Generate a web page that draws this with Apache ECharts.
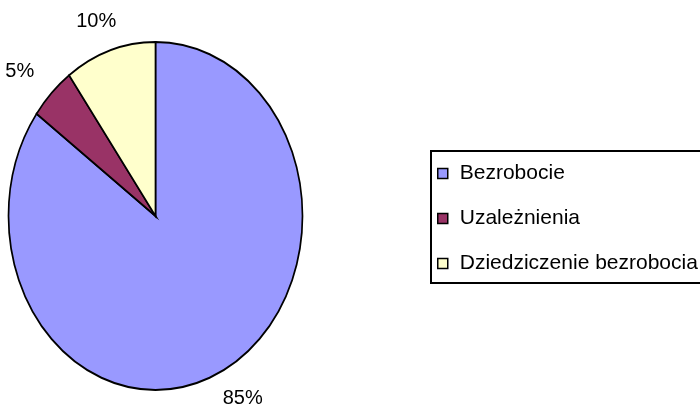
<!DOCTYPE html>
<html>
<head>
<meta charset="utf-8">
<script src="https://cdn.jsdelivr.net/npm/echarts@6/dist/echarts.min.js"></script>
<style>
  html, body { margin: 0; padding: 0; background: #fff; }
  #chart { width: 700px; height: 412px; }
</style>
</head>
<body>
<div id="chart"></div>
<script>
const categories = ['Bezrobocie', 'Uzależnienia', 'Dziedziczenie bezrobocia'];
const values = [85, 5, 10];
const colors = ['#9999FF', '#993366', '#FFFFCC'];

const total = values.reduce((a, b) => a + b, 0);
// the pie is drawn as an ellipse, so it is a circle stretched on y
const pie = { cx: 155.5, cy: 216, rx: 147, ry: 174 };

function sliceRenderer(i) {
  return function (params, api) {
    let before = 0;
    for (let k = 0; k < i; k++) before += values[k];
    const v = api.value(0);
    const start = -Math.PI / 2 + before / total * Math.PI * 2;
    const end = start + v / total * Math.PI * 2;
    const mid = (start + end) / 2;
    return {
      type: 'group',
      children: [
        {
          type: 'sector',
          x: pie.cx,
          y: pie.cy,
          scaleX: pie.rx / pie.ry,
          shape: { cx: 0, cy: 0, r0: 0, r: pie.ry, startAngle: start, endAngle: end, clockwise: true },
          style: { fill: colors[i], stroke: '#000', lineWidth: 2, strokeNoScale: true }
        },
        {
          type: 'text',
          x: pie.cx + (pie.rx + 45) * Math.cos(mid),
          y: pie.cy + (pie.ry + 31) * Math.sin(mid),
          style: {
            text: Math.round(v / total * 100) + '%',
            fill: '#000',
            fontSize: 20,
            fontFamily: '"Liberation Sans", Arial, sans-serif',
            align: 'center',
            verticalAlign: 'middle'
          }
        }
      ]
    };
  };
}

const chart = echarts.init(document.getElementById('chart'));

chart.setOption({
  animation: false,
  backgroundColor: '#fff',
  // legend frame runs off the right edge of the picture: only three sides show
  graphic: [{
    type: 'polyline',
    shape: { points: [[760, 151], [431, 151], [431, 283], [760, 283]] },
    style: { fill: null, stroke: '#000', lineWidth: 2 },
    z: 0
  }],
  legend: {
    data: categories,
    orient: 'vertical',
    left: 431,
    top: 150,
    padding: [13, 0, 11, 6],
    itemGap: 24,
    icon: 'rect',
    itemWidth: 10,
    itemHeight: 10,
    selectedMode: false,
    itemStyle: { borderColor: '#000', borderWidth: 1.5 },
    textStyle: {
      fontSize: 21,
      fontFamily: '"Liberation Sans", Arial, sans-serif',
      color: '#000',
      padding: [0, 0, 0, 7]
    }
  },
  series: categories.map((name, i) => ({
    type: 'custom',
    name: name,
    coordinateSystem: 'none',
    data: [[values[i]]],
    itemStyle: { color: colors[i] },
    renderItem: sliceRenderer(i)
  }))
});
</script>
</body>
</html>
